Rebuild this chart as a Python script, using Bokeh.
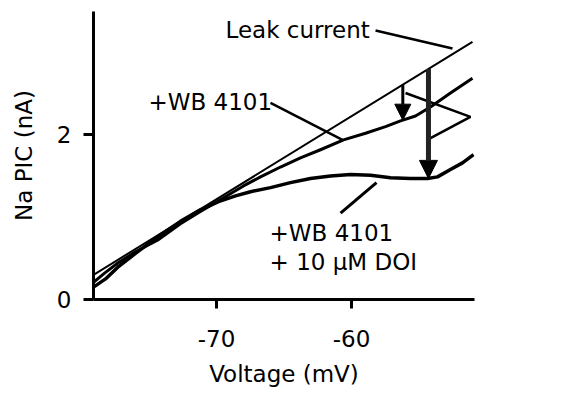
import numpy as np
from bokeh.plotting import figure
from bokeh.models import Range1d, Label, Arrow, NormalHead, FixedTicker, CustomJSTickFormatter
from bokeh.embed import file_html
from bokeh.resources import INLINE

# ---- data ----
leak_voltage = [-79.11, -51.04]
leak_current = [0.30, 3.13]

wb_voltage = [-79.11, -78.22, -77.33, -76.0, -74.37, -72.67, -71.19, -69.85, -68.0, -66.74,
              -65.26, -63.78, -62.30, -60.59, -58.96, -57.48, -56.37, -55.26, -54.15, -52.67, -51.04]
wb_current = [0.21, 0.33, 0.44, 0.58, 0.72, 0.92, 1.07, 1.20, 1.38, 1.49,
              1.61, 1.72, 1.82, 1.94, 2.02, 2.10, 2.17, 2.23, 2.34, 2.51, 2.69]

doi_voltage = [-79.11, -78.22, -77.33, -76.0, -74.37, -72.67, -71.19, -69.85, -68.59, -67.48,
               -66.0, -64.52, -63.04, -61.56, -60.07, -58.59, -57.11, -55.63, -54.37, -53.63,
               -52.67, -51.78, -50.96]
doi_current = [0.15, 0.25, 0.39, 0.56, 0.76, 0.95, 1.09, 1.19, 1.26, 1.31,
               1.36, 1.42, 1.47, 1.50, 1.52, 1.51, 1.48, 1.47, 1.47, 1.49,
               1.58, 1.66, 1.76]

pic_voltages = [-56.2, -54.3]   # where the Na PIC arrows are drawn
x_ticks = [-70, -60]
y_ticks = [0, 2]

FONT = "DejaVu Sans"
FS = "23px"

p = figure(width=557, height=389, output_backend="svg", toolbar_location=None,
           x_range=Range1d(-79.11, -50.89), y_range=Range1d(0, 3.5),
           min_border_left=93, min_border_right=83, min_border_top=11, min_border_bottom=89)
p.outline_line_color = None
p.xgrid.visible = False
p.ygrid.visible = False
p.background_fill_color = "white"

for ax in (p.xaxis[0], p.yaxis[0]):
    ax.axis_line_width = 3
    ax.axis_line_color = "black"
    ax.major_tick_line_width = 3
    ax.major_tick_line_color = "black"
    ax.minor_tick_line_color = None
    ax.major_tick_in = 0
    ax.major_label_text_font = FONT
    ax.major_label_text_font_size = FS
    ax.major_label_text_color = "black"
    ax.axis_label_text_font = FONT
    ax.axis_label_text_font_size = FS
    ax.axis_label_text_font_style = "normal"
    ax.axis_label_text_color = "black"
    ax.formatter = CustomJSTickFormatter(code="return tick.toString();")

p.xaxis.ticker = FixedTicker(ticks=x_ticks)
p.yaxis.ticker = FixedTicker(ticks=y_ticks)
p.xaxis.major_tick_out = 9
p.yaxis.major_tick_out = 10
p.xaxis.major_label_standoff = 21
p.yaxis.major_label_standoff = 12
p.xaxis.axis_label = "Voltage (mV)"
p.yaxis.axis_label = "Na PIC (nA)"
p.xaxis.axis_label_standoff = 11
p.yaxis.axis_label_standoff = 17

# curves
p.line(leak_voltage, leak_current, line_color="black", line_width=2)
p.line(wb_voltage, wb_current, line_color="black", line_width=3, line_join="round")
p.line(doi_voltage, doi_current, line_color="black", line_width=3.5, line_join="round")

# Na PIC arrows, from leak line down to each curve
leak_at = np.interp(pic_voltages, leak_voltage, leak_current)
wb_at = float(np.interp(pic_voltages[0], wb_voltage, wb_current))
doi_at = float(np.interp(pic_voltages[1], doi_voltage, doi_current))
p.add_layout(Arrow(end=NormalHead(size=16, fill_color="black", line_color="black"),
                   x_start=pic_voltages[0], y_start=float(leak_at[0]),
                   x_end=pic_voltages[0], y_end=wb_at, line_width=3, line_color="black"))
p.add_layout(Arrow(end=NormalHead(size=18, fill_color="black", line_color="black"),
                   x_start=pic_voltages[1], y_start=float(leak_at[1]),
                   x_end=pic_voltages[1], y_end=doi_at, line_width=5, line_color="#222222"))

# pointer lines
def seg(xs, ys, w=2.5):
    p.line(xs, ys, line_color="black", line_width=w)

seg([-58.22, -52.52], [3.27, 3.05])
seg([-66.0, -60.67], [2.39, 1.94])
seg([-60.81, -58.15], [1.05, 1.42], 3)
seg([-56.0, -51.19, -54.15], [2.51, 2.22, 1.96])

def lab(x, y, t):
    p.add_layout(Label(x=x, y=y, text=t, text_font=FONT, text_font_size=FS,
                       text_baseline="middle", text_align="left", text_color="black"))

lab(-69.33, 3.27, "Leak current")
lab(-75.04, 2.40, "+WB 4101")
lab(-66.07, 0.81, "+WB 4101")
lab(-66.07, 0.45, "+ 10 \u03bcM DOI")
lab(-50.67, 2.22, "Na PIC")

open("out.html", "w").write(file_html(p, INLINE))
